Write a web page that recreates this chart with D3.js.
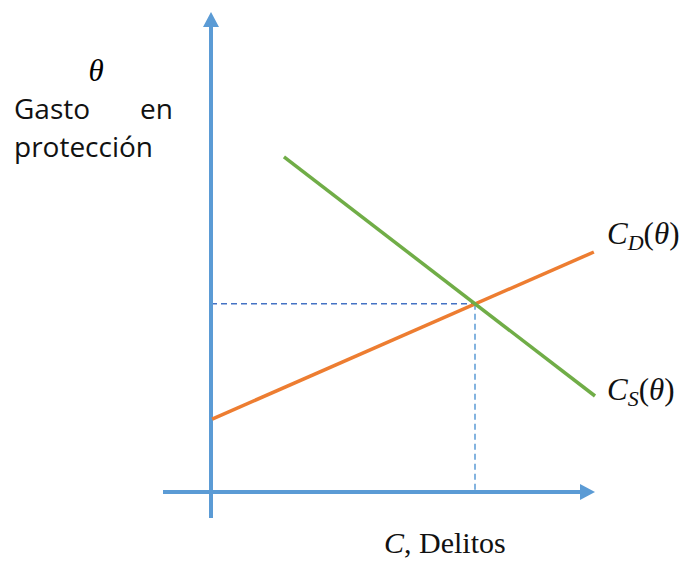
<!DOCTYPE html>
<html><head><meta charset="utf-8">
<script src="https://cdn.jsdelivr.net/npm/d3@7"></script>
<style>body{margin:0;background:#fff}svg{display:block}</style>
</head><body>
<script>
// Abstract units: C (crimes) on x, θ (protection spending) on y
const supplyCurve = [[1.9, 6.98], [10, 2.0]];   // C_S(θ) green
const demandCurve = [[0.03, 1.52], [9.97, 5.0]]; // C_D(θ) orange
const equilibrium = [6.875, 3.92];
const xAxisExtent = [-1.25, 10];
const yAxisExtent = [-0.54, 10];
const curveLabels = ["D", "S"];

const W = 687, H = 561;
const x = d3.scaleLinear().domain([0, 10]).range([211, 595]);
const y = d3.scaleLinear().domain([0, 10]).range([492, 12]);

const svg = d3.select("body").append("svg").attr("width", W).attr("height", H);
const blue = "#5B9BD5";

// dashed guides
svg.append("line").attr("x1", x(0)).attr("x2", x(equilibrium[0]))
  .attr("y1", y(equilibrium[1])).attr("y2", y(equilibrium[1]))
  .attr("stroke", "#4472C4").attr("stroke-width", 1.5).attr("stroke-dasharray", "6,4");
svg.append("line").attr("x1", x(equilibrium[0])).attr("x2", x(equilibrium[0]))
  .attr("y1", y(equilibrium[1])).attr("y2", y(0))
  .attr("stroke", blue).attr("stroke-width", 1.5).attr("stroke-dasharray", "6,4");

// axes
const ah = 15, aw = 8;
svg.append("line").attr("x1", x(xAxisExtent[0])).attr("x2", x(xAxisExtent[1]) - ah)
  .attr("y1", y(0)).attr("y2", y(0)).attr("stroke", blue).attr("stroke-width", 4);
svg.append("path").attr("d", `M${x(xAxisExtent[1])},${y(0)} L${x(xAxisExtent[1]) - ah},${y(0) - aw} L${x(xAxisExtent[1]) - ah},${y(0) + aw}Z`).attr("fill", blue);
svg.append("line").attr("x1", x(0)).attr("x2", x(0))
  .attr("y1", y(yAxisExtent[0])).attr("y2", y(yAxisExtent[1]) + ah).attr("stroke", blue).attr("stroke-width", 4);
svg.append("path").attr("d", `M${x(0)},${y(yAxisExtent[1])} L${x(0) - aw},${y(yAxisExtent[1]) + ah} L${x(0) + aw},${y(yAxisExtent[1]) + ah}Z`).attr("fill", blue);

// curves
const line = d3.line().x(d => x(d[0])).y(d => y(d[1]));
svg.append("path").attr("d", line(demandCurve)).attr("stroke", "#ED7D31").attr("stroke-width", 3.5).attr("fill", "none");
svg.append("path").attr("d", line(supplyCurve)).attr("stroke", "#70AD47").attr("stroke-width", 3.5).attr("fill", "none");

// labels
const serif = "'Liberation Serif', 'DejaVu Serif', serif";
const sans = "'Open Sans', 'Noto Sans', sans-serif";
svg.append("text").attr("x", 96).attr("y", 81).attr("text-anchor", "middle")
  .attr("font-family", serif).attr("font-style", "italic").attr("font-size", 31).text("θ");
svg.append("text").attr("x", 14).attr("y", 119).attr("font-family", sans).attr("font-size", 28).attr("fill", "#111").text("Gasto");
svg.append("text").attr("x", 173).attr("y", 119).attr("text-anchor", "end").attr("font-family", sans).attr("font-size", 28).attr("fill", "#111").text("en");
svg.append("text").attr("x", 14).attr("y", 157).attr("font-family", sans).attr("font-size", 28).attr("fill", "#111").text("protección");

function curveLabel(sub, px, py) {
  const t = svg.append("text").attr("x", px).attr("y", py).attr("font-family", serif).attr("font-size", 31).attr("fill", "#111");
  t.append("tspan").attr("font-style", "italic").text("C");
  t.append("tspan").attr("font-style", "italic").attr("font-size", 22).attr("dy", 6).text(sub);
  t.append("tspan").attr("dy", -6).text("(");
  t.append("tspan").attr("font-style", "italic").text("θ");
  t.append("tspan").text(")");
}
curveLabel(curveLabels[0], 607, 244);
curveLabel(curveLabels[1], 607, 400);

const xl = svg.append("text").attr("x", 384).attr("y", 553).attr("font-family", serif).attr("font-size", 30).attr("fill", "#111");
xl.append("tspan").attr("font-style", "italic").text("C");
xl.append("tspan").text(", Delitos");
</script>
</body></html>
